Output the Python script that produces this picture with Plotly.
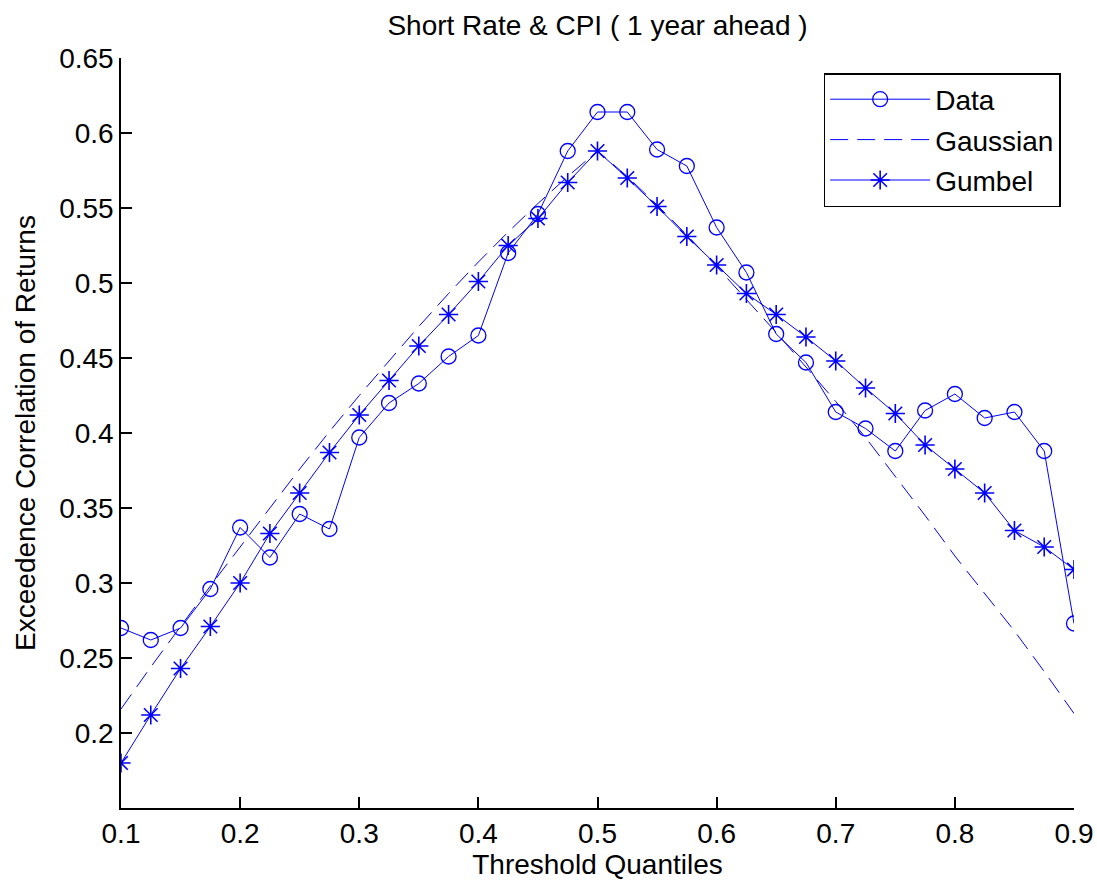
import plotly.graph_objects as go

# Threshold quantiles (0.1 to 0.9 in steps of 0.025)
quantiles = [0.1, 0.125, 0.15, 0.175, 0.2, 0.225, 0.25, 0.275, 0.3, 0.325, 0.35,
             0.375, 0.4, 0.425, 0.45, 0.475, 0.5, 0.525, 0.55, 0.575, 0.6, 0.625,
             0.65, 0.675, 0.7, 0.725, 0.75, 0.775, 0.8, 0.825, 0.85, 0.875, 0.9]

# Empirical exceedence correlations
data_corr = [0.270, 0.262, 0.270, 0.296, 0.337, 0.317, 0.346, 0.336, 0.397, 0.420, 0.433,
             0.451, 0.465, 0.520, 0.546, 0.588, 0.614, 0.614, 0.589, 0.578, 0.537, 0.507,
             0.466, 0.447, 0.414, 0.403, 0.388, 0.415, 0.426, 0.410, 0.414, 0.388, 0.273]

# Gaussian copula implied exceedence correlations
gaussian_corr = [0.216, 0.244, 0.271, 0.298, 0.324, 0.350, 0.376, 0.401, 0.425, 0.448, 0.471,
                 0.493, 0.514, 0.534, 0.553, 0.571, 0.588, 0.571, 0.552, 0.532, 0.511, 0.489,
                 0.467, 0.444, 0.421, 0.397, 0.371, 0.345, 0.318, 0.293, 0.268, 0.241, 0.213]

# Gumbel copula implied exceedence correlations
gumbel_corr = [0.180, 0.212, 0.243, 0.271, 0.300, 0.333, 0.360, 0.387, 0.412, 0.435, 0.458,
               0.479, 0.501, 0.525, 0.543, 0.567, 0.588, 0.570, 0.551, 0.531, 0.512, 0.493,
               0.479, 0.464, 0.448, 0.430, 0.413, 0.392, 0.376, 0.360, 0.335, 0.324, 0.309]

x_ticks = [0.1, 0.2, 0.3, 0.4, 0.5, 0.6, 0.7, 0.8, 0.9]
y_ticks = [0.2, 0.25, 0.3, 0.35, 0.4, 0.45, 0.5, 0.55, 0.6, 0.65]

BLUE = "#0000ff"
FONT = "Liberation Sans, Arial, sans-serif"
FS = 28

fig = go.Figure()

fig.add_trace(go.Scatter(
    x=quantiles, y=data_corr, name="Data", mode="lines+markers",
    legendgroup="a",
    line=dict(color=BLUE, width=1),
    marker=dict(symbol="circle-open", size=15, color=BLUE, line=dict(width=1.3, color=BLUE)),
))
fig.add_trace(go.Scatter(
    x=quantiles, y=gaussian_corr, name="Gaussian", mode="lines",
    legendgroup="b",
    line=dict(color=BLUE, width=1, dash="18px,9px"),
))
fig.add_trace(go.Scatter(
    x=quantiles, y=gumbel_corr, name="Gumbel", mode="lines+markers",
    legendgroup="c",
    line=dict(color=BLUE, width=1),
    marker=dict(symbol="asterisk-open", size=16, color=BLUE, line=dict(width=1.6, color=BLUE)),
))

axis_common = dict(
    showgrid=False, zeroline=False, showline=True, linecolor="black", linewidth=1.5,
    ticks="inside", ticklen=11, tickwidth=1.5, tickcolor="black", mirror=False,
    automargin=False,
    tickfont=dict(family=FONT, size=FS, color="black"),
)

fig.update_layout(
    width=1097, height=884,
    paper_bgcolor="white", plot_bgcolor="white",
    margin=dict(l=121, r=23, t=58, b=76),
    title=dict(text="Short Rate & CPI ( 1 year ahead )", x=0.5, xref="paper",
               y=1 - 25 / 884, yanchor="middle",
               font=dict(family=FONT, size=FS, color="black")),
    xaxis=dict(range=[0.1, 0.9], tickvals=x_ticks, ticktext=[f"{v:g}" for v in x_ticks],
               title=dict(text="Threshold Quantiles", standoff=2,
                          font=dict(family=FONT, size=FS, color="black")),
               **axis_common),
    yaxis=dict(range=[0.15, 0.65], tickvals=y_ticks, ticktext=[f"{v:g}" for v in y_ticks],
               title=dict(text="Exceedence Correlation of Returns", standoff=15,
                          font=dict(family=FONT, size=FS, color="black")),
               **axis_common),
    legend=dict(x=0.986, y=0.98, xanchor="right", yanchor="top",
                bgcolor="white", bordercolor="black", borderwidth=1.5,
                traceorder="grouped", tracegroupgap=1, itemwidth=100,
                font=dict(family=FONT, size=FS, color="black")),
    showlegend=True,
)

fig.write_html("out.html")
